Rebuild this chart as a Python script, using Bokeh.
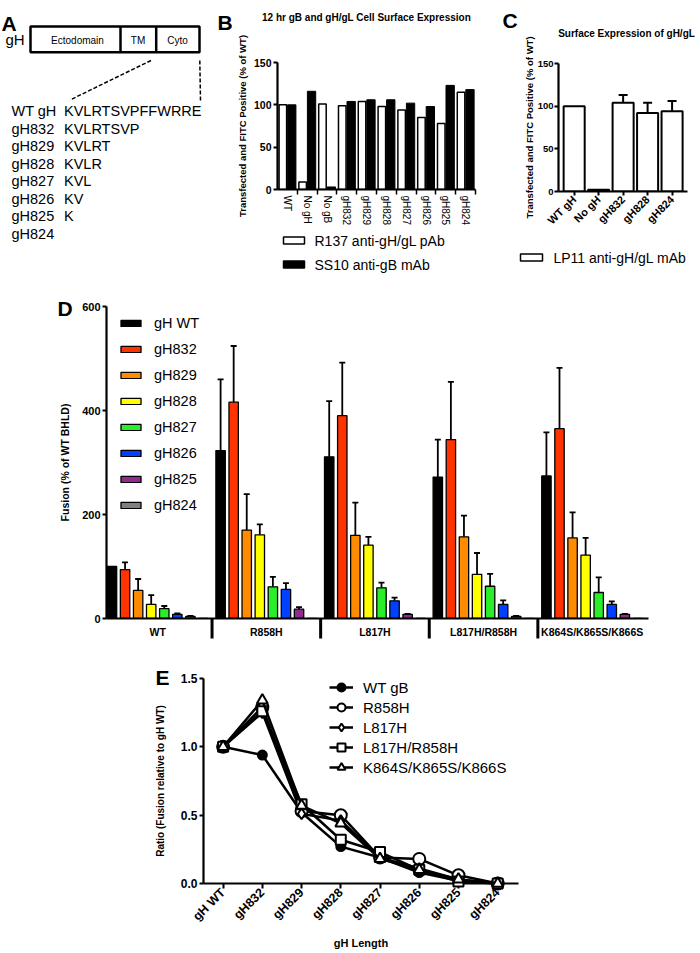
from math import pi
from bokeh.plotting import figure
from bokeh.models import (Range1d, FixedTicker, Legend, LegendItem, Whisker,
                          TeeHead, ColumnDataSource, NumeralTickFormatter)
from bokeh.layouts import row, column
from bokeh.core.properties import value
from bokeh.embed import file_html
from bokeh.resources import INLINE

FONT = "Liberation Sans"

# ---------------- data ----------------
# Panel A: gH cytoplasmic-tail truncations
seq_names = ["WT gH", "gH832", "gH829", "gH828", "gH827", "gH826", "gH825", "gH824"]
seq_tails = ["KVLRTSVPFFWRRE", "KVLRTSVP", "KVLRT", "KVLR", "KVL", "KV", "K", ""]
domain_names = ["Ectodomain", "TM", "Cyto"]

# Panel B: 12 hr surface expression (% of WT)
b_cats = ["WT", "No gH", "No gB", "gH832", "gH829", "gH828", "gH827", "gH826", "gH825", "gH824"]
b_r137 = [100, 9, 101, 99, 104, 98, 94, 85, 78, 115]
b_ss10 = [100, 116, 3, 104, 106, 106, 102, 98, 123, 118]
b_series = ["R137 anti-gH/gL pAb", "SS10 anti-gB mAb"]

# Panel C: surface expression of gH/gL
c_cats = ["WT gH", "No gH", "gH832", "gH828", "gH824"]
c_vals = [100, 2, 104, 92, 94]
c_errs = [0, 0, 9, 12, 12]
c_series = "LP11 anti-gH/gL mAb"

# Panel D: fusion (% of WT BHLD), one list per gH construct across gB groups
d_groups = ["WT", "R858H", "L817H", "L817H/R858H", "K864S/K865S/K866S"]
d_series = ["gH WT", "gH832", "gH829", "gH828", "gH827", "gH826", "gH825", "gH824"]
d_gh_wt = [100, 323, 311, 272, 274]
d_gh832 = [94, 416, 390, 344, 365]
d_gh829 = [54, 170, 160, 157, 155]
d_gh828 = [27, 161, 141, 85, 122]
d_gh827 = [19, 61, 59, 62, 50]
d_gh826 = [8, 56, 34, 27, 27]
d_gh825 = [4, 18, 8, 4, 8]
d_gh824 = [0, 0, 0, 0, 0]
e_gh_wt = [0, 137, 107, 72, 84]
e_gh832 = [14, 108, 102, 111, 117]
e_gh829 = [22, 69, 63, 41, 49]
e_gh828 = [18, 20, 16, 41, 33]
e_gh827 = [5, 19, 10, 24, 29]
e_gh826 = [2, 12, 6, 8, 6]
e_gh825 = [1, 4, 1, 1, 1]
e_gh824 = [0, 0, 0, 0, 0]
d_colors = ["#000000", "#FF3300", "#FF8C00", "#FFFF00", "#2BEE2B", "#0040FF", "#8E2D8E", "#808080"]

# Panel E: ratio (fusion relative to gH WT)
r_cats = ["gH WT", "gH832", "gH829", "gH828", "gH827", "gH826", "gH825", "gH824"]
r_series = ["WT gB", "R858H", "L817H", "L817H/R858H", "K864S/K865S/K866S"]
r_wt_gb = [1.0, 0.94, 0.52, 0.27, 0.19, 0.08, 0.02, 0.0]
r_r858h = [1.0, 1.29, 0.53, 0.50, 0.19, 0.18, 0.06, 0.0]
r_l817h = [1.0, 1.25, 0.51, 0.46, 0.19, 0.11, 0.03, 0.0]
r_l817h_r858h = [1.0, 1.26, 0.58, 0.32, 0.23, 0.10, 0.015, 0.0]
r_k864s = [1.0, 1.34, 0.57, 0.44, 0.18, 0.10, 0.03, 0.0]


# ---------------- helpers ----------------
class Panel:
    """A figure plus the pixel geometry of its frame, to place notes outside it."""

    def __init__(self, w, h, l, r, t, b, x0, x1, y0, y1):
        self.w, self.h, self.l, self.r, self.t, self.b = w, h, l, r, t, b
        self.x0, self.x1, self.y0, self.y1 = x0, x1, y0, y1
        self.fb = h - b
        p = figure(width=w, height=h, x_range=Range1d(x0, x1), y_range=Range1d(y0, y1),
                   output_backend="svg", toolbar_location=None, min_border_left=l,
                   min_border_right=r, min_border_top=t, min_border_bottom=b)
        p.outline_line_color = None
        p.grid.visible = False
        p.background_fill_color = "white"
        p.border_fill_color = "white"
        no_align(p)
        self.p = p

    def fx(self, lx):
        return self.x0 + (lx - self.l) * (self.x1 - self.x0) / (self.w - self.l - self.r)

    def fy(self, ly):
        return self.y0 + (self.fb - ly) * (self.y1 - self.y0) / (self.fb - self.t)

    def note(self, text, lx, ly, size, bold=False, align="left", baseline="middle"):
        self.p.text(x=[self.fx(lx)], y=[self.fy(ly)], text=[text], text_font=value(FONT),
                    text_font_size=size, text_font_style="bold" if bold else "normal",
                    text_align=align, text_baseline=baseline, text_color="black",
                    level="overlay")

    def key(self, labels, fills, gw, gh, pitch, lx, ly, text_dx, size):
        for k, (lab, fc) in enumerate(zip(labels, fills)):
            cy = ly + k * pitch
            self.p.quad(left=[self.fx(lx)], right=[self.fx(lx + gw)],
                        top=[self.fy(cy - gh / 2)], bottom=[self.fy(cy + gh / 2)],
                        fill_color=fc, line_color="black", line_width=1.5, level="overlay")
            self.note(lab, lx + gw + text_dx, cy, size)


def no_align(p):
    if "frame_align" in p.properties():
        p.frame_align = False


def style_axes(p, tick_size, label_size, label_standoff):
    for ax in p.axis:
        ax.axis_line_width = 2.2
        ax.axis_line_color = "black"
        ax.major_tick_line_width = 2
        ax.major_tick_line_color = "black"
        ax.major_tick_out = 4
        ax.major_tick_in = 0
        ax.minor_tick_line_color = None
        ax.major_label_text_font = FONT
        ax.major_label_text_font_style = "bold"
        ax.major_label_text_font_size = tick_size
        ax.major_label_text_color = "black"
        ax.major_label_standoff = 2
        ax.axis_label_text_font = FONT
        ax.axis_label_text_font_style = "bold"
        ax.axis_label_text_font_size = label_size
        ax.axis_label_text_color = "black"
        ax.axis_label_standoff = label_standoff


def add_err(p, xs, tops, errs, size, lw):
    keep = [k for k, e in enumerate(errs) if e > 0]
    src = ColumnDataSource(dict(base=[xs[k] for k in keep],
                                lower=[tops[k] for k in keep],
                                upper=[tops[k] + errs[k] for k in keep]))
    p.add_layout(Whisker(source=src, base="base", lower="lower", upper="upper",
                         dimension="height", line_color="black", line_width=lw,
                         lower_head=None,
                         upper_head=TeeHead(size=size, line_color="black", line_width=lw)))


def legend(items, loc, gw, gh, lh, spacing, standoff, size):
    return Legend(items=items, location=loc, orientation="vertical", padding=0, margin=0,
                  spacing=spacing, glyph_width=gw, glyph_height=gh, label_height=lh,
                  label_standoff=standoff, label_text_font=FONT, label_text_font_size=size,
                  label_text_color="black", border_line_color=None,
                  background_fill_alpha=0)


# ---------------- Panel A ----------------
WA, HA = 232, 280
pa = figure(width=WA, height=HA, x_range=Range1d(0, WA), y_range=Range1d(HA, 0),
            output_backend="svg", toolbar_location=None, min_border=0,
            x_axis_location=None, y_axis_location=None)
no_align(pa)
pa.grid.visible = False
pa.outline_line_color = None
pa.text(x=[1, 217], y=[22.5, 22], text=["A", "B"], text_font=value(FONT),
        text_font_size="21px", text_font_style="bold", text_baseline="alphabetic")
pa.text(x=[5], y=[38.5], text=["gH"], text_font=value(FONT), text_font_size="15px",
        text_baseline="middle")
pa.quad(left=[30], right=[199], top=[26], bottom=[51.7], fill_color=None,
        line_color="black", line_width=2.5)
pa.segment(x0=[120, 155.7], y0=[26, 26], x1=[120, 155.7], y1=[51.7, 51.7],
           line_color="black", line_width=2.5)
pa.text(x=[77, 137.5, 177], y=[39.5, 39.5, 39.5], text=domain_names, text_font=value(FONT),
        text_font_size="10px", text_align="center", text_baseline="middle")
pa.segment(x0=[150.5, 199.3], y0=[60, 60], x1=[69.5, 200], y1=[99.5, 100],
           line_color="black", line_width=1.5, line_dash="4 2")
rows_y = [110.7 + 17.5 * k for k in range(len(seq_names))]
pa.text(x=[11] * len(seq_names), y=rows_y, text=seq_names, text_font=value(FONT),
        text_font_size="14.5px", text_baseline="middle")
pa.text(x=[63.5] * len(seq_tails), y=rows_y, text=seq_tails, text_font=value(FONT),
        text_font_size="14.5px", text_baseline="middle")

# ---------------- Panel B ----------------
B = Panel(246, 280, 45, 3, 62, 91, -0.5, len(b_cats) - 0.5, 0, 150)
pb = B.p
b_x = list(range(len(b_cats)))
pb.vbar(x=[v - 0.23 for v in b_x], top=b_r137, width=0.38, fill_color="white",
        line_color="black", line_width=1.5)
pb.vbar(x=[v + 0.22 for v in b_x], top=b_ss10, width=0.42, fill_color="black",
        line_color="black", line_width=1)
style_axes(pb, "10.5px", "9.5px", 3)
pb.yaxis.ticker = FixedTicker(ticks=[0, 50, 100, 150])
pb.yaxis.axis_label = "Transfected and FITC Positive (% of WT)"
xa = pb.xaxis[0]
xa.ticker = FixedTicker(ticks=b_x, minor_ticks=[v + 0.5 for v in b_x])
xa.major_label_overrides = {v: c for v, c in zip(b_x, b_cats)}
xa.major_tick_line_color = None
xa.major_tick_out = 0
xa.minor_tick_line_color = "black"
xa.minor_tick_line_width = 1.5
xa.minor_tick_out = 5
xa.minor_tick_in = 0
xa.major_label_orientation = "vertical"
xa.major_label_text_font_style = "normal"
xa.major_label_text_font_size = "10px"
xa.major_label_standoff = 1
B.note("12 hr gB and gH/gL Cell Surface Expression", 134, 17, "10px", bold=True,
       align="center")
B.key(b_series, ["white", "black"], 21, 7, 24, 51, 240, 10, "14px")

# ---------------- Panel C ----------------
C = Panel(222, 280, 80, 13, 63, 89, -0.64, 4.63, 0, 150)
pc = C.p
c_x = list(range(len(c_cats)))
pc.vbar(x=c_x, top=c_vals, width=0.86, fill_color="white", line_color="black",
        line_width=2)
add_err(pc, c_x, c_vals, c_errs, 9, 2)
style_axes(pc, "9.5px", "9.5px", 0)
pc.yaxis.major_label_standoff = 1
pc.yaxis.ticker = FixedTicker(ticks=[0, 50, 100, 150])
pc.yaxis.axis_label = "Transfected and FITC Positive (% of WT)"
xc = pc.xaxis[0]
xc.ticker = FixedTicker(ticks=c_x)
xc.major_label_overrides = {v: c for v, c in zip(c_x, c_cats)}
xc.major_label_orientation = pi / 4
xc.major_label_text_font_size = "11px"
C.note("C", 24, 20, "21px", bold=True, baseline="alphabetic")
C.note("Surface Expression of gH/gL", 148, 33, "10px", bold=True, align="center")
C.key([c_series], ["white"], 22, 7, 22, 42, 257, 11, "14px")

# ---------------- Panel D ----------------
GAP = 8.31
D = Panel(700, 364, 106, 52, 26, 26, -0.42, 41.05, 0, 600)
pdd = D.p
d_vals = [d_gh_wt, d_gh832, d_gh829, d_gh828, d_gh827, d_gh826, d_gh825, d_gh824]
d_errs = [e_gh_wt, e_gh832, e_gh829, e_gh828, e_gh827, e_gh826, e_gh825, e_gh824]
d_items = []
for i, (name, vals, errs, col) in enumerate(zip(d_series, d_vals, d_errs, d_colors)):
    xs = [g * GAP + i for g in range(len(d_groups))]
    r = pdd.vbar(x=xs, top=vals, width=0.72, fill_color=col, line_color="black",
                 line_width=1.3)
    add_err(pdd, xs, vals, errs, 6, 1.8)
    d_items.append(LegendItem(label=name, renderers=[r]))
style_axes(pdd, "11px", "10.5px", 8)
pdd.yaxis.ticker = FixedTicker(ticks=[0, 200, 400, 600])
pdd.yaxis.axis_label = "Fusion (% of WT BHLD)"
xd = pdd.xaxis[0]
centers = [g * GAP + 3.5 for g in range(len(d_groups))]
seps = [g * GAP + (7 + GAP) / 2 for g in range(len(d_groups) - 1)]
xd.ticker = FixedTicker(ticks=centers)
xd.major_label_overrides = {c: n for c, n in zip(centers, d_groups)}
xd.major_tick_line_color = None
xd.major_tick_out = 0
xd.major_label_text_font_size = "10.5px"
xd.major_label_standoff = 7
# group separators: thick marks hanging 20 px below the axis
sep_bottom = D.fy(D.fb + 20)
pdd.segment(x0=seps, y0=[0] * len(seps), x1=seps, y1=[sep_bottom] * len(seps),
            line_color="black", line_width=3, level="overlay")
D.note("D", 57, 28, "21px", bold=True, baseline="alphabetic")
pdd.add_layout(legend(d_items, (12, 102), 25, 8, 22, 4, 11, "14.5px"))

# ---------------- Panel E ----------------
E = Panel(700, 308, 203, 182, 34, 64, -0.5, 7.53, 0, 1.5)
pe = E.p
r_x = list(range(len(r_cats)))
r_vals = [r_wt_gb, r_r858h, r_l817h, r_l817h_r858h, r_k864s]
r_markers = ["circle", "circle", "diamond", "square", "triangle"]
r_fills = ["black", "white", "white", "white", "white"]
r_sizes = [9, 12, 11, 10, 11]
e_items = []
for name, vals, m, f, s in zip(r_series, r_vals, r_markers, r_fills, r_sizes):
    ln = pe.line(x=r_x, y=vals, line_color="black", line_width=2.5, level="overlay")
    sc = pe.scatter(x=r_x, y=vals, marker=m, size=s, fill_color=f, line_color="black",
                    line_width=2, level="overlay")
    e_items.append(LegendItem(label=name, renderers=[ln, sc]))
style_axes(pe, "12px", "10px", 12)
pe.yaxis.ticker = FixedTicker(ticks=[0, 0.5, 1.0, 1.5])
pe.yaxis.formatter = NumeralTickFormatter(format="0.0")
pe.yaxis.axis_label = "Ratio (Fusion relative to gH WT)"
xe = pe.xaxis[0]
xe.ticker = FixedTicker(ticks=r_x)
xe.major_label_overrides = {v: c for v, c in zip(r_x, r_cats)}
xe.major_label_orientation = pi / 4
xe.major_label_text_font_size = "12.5px"
xe.major_tick_out = 5
xe.axis_label = "gH Length"
xe.axis_label_text_font_size = "11px"
xe.axis_label_standoff = 6
E.note("E", 155, 33, "21px", bold=True, baseline="alphabetic")
pe.add_layout(legend(e_items, (126, 106), 24, 20, 20, 0, 10, "15px"))

layout = column(row(pa, pb, pc), pdd, pe)
open("out.html", "w").write(file_html(layout, INLINE))
